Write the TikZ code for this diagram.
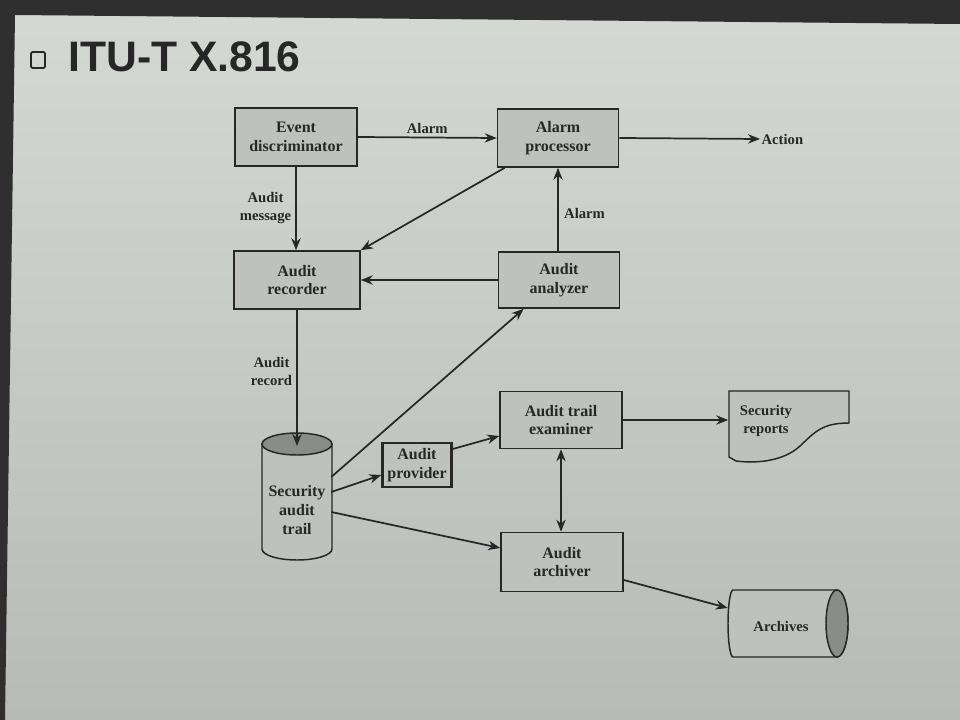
\documentclass[tikz,border=0pt]{standalone}
\usepackage{fontspec}
\setmainfont{Liberation Serif}
\setsansfont{Liberation Sans}
\usetikzlibrary{arrows.meta,calc}
\definecolor{bgtop}{HTML}{D5D9D3}
\definecolor{bgbot}{HTML}{B7BBB7}
\definecolor{frame}{HTML}{2E2F2E}
\definecolor{ink}{HTML}{262726}
\definecolor{boxfill}{HTML}{BEC1BC}
\definecolor{endfill}{HTML}{8A8C89}
\begin{document}
\begin{tikzpicture}[x=0.75pt,y=-0.75pt,
  box/.style={draw=ink, line width=1.2pt, fill=boxfill, text=ink, align=center,
    font=\fontsize{12}{14}\selectfont\bfseries, inner sep=0pt,
    minimum width=91.5pt, minimum height=43.5pt},
  lbl/.style={text=ink, align=center, font=\fontsize{11}{13.5}\selectfont\bfseries, inner sep=1pt},
  arr/.style={draw=ink, line width=1.3pt, -{Stealth[length=9pt,width=7pt]}},
  darr/.style={draw=ink, line width=1.3pt, {Stealth[length=9pt,width=7pt]}-{Stealth[length=9pt,width=7pt]}},
  ghost/.style={inner sep=0pt, draw=none}]
% background
\useasboundingbox (0,0) rectangle (960,720);
\shade[top color=bgtop, bottom color=bgbot] (0,0) rectangle (960,720);
\fill[frame] (0,0) -- (960,0) -- (960,24) -- (15,15) -- (5,720) -- (0,720) -- cycle;
% title
\node[draw=ink, line width=1.3pt, rounded corners=1pt, minimum width=10.5pt, minimum height=12pt, inner sep=0pt] (sq) at (38,60) {};
\node[anchor=base west, inner sep=0pt, text=ink, font=\fontsize{32}{36}\selectfont\sffamily\bfseries] (title) at (68,72) {ITU-T X.816};
% boxes
\node[box] (ed) at (296,137) {Event\\discriminator};
\node[box, minimum width=90.75pt] (ap) at (558,138) {Alarm\\processor};
\node[box, minimum width=94.5pt] (ar) at (297,280) {Audit\\recorder};
\node[box, minimum width=90.75pt, minimum height=42pt] (an) at (559,280) {Audit\\analyzer};
\node[box, minimum height=42.75pt] (ate) at (561,420) {Audit trail\\examiner};
\node[box, minimum height=44.25pt] (arch) at (562,562) {Audit\\archiver};
\node[box, line width=1.8pt, minimum width=51.75pt, minimum height=33pt] (prov) at (417,465) {Audit\\provider};
% security audit trail (vertical cylinder)
\node[ghost, minimum width=52.5pt, minimum height=95pt] (sat) at (297,497) {};
\filldraw[draw=ink, line width=1.1pt, fill=boxfill] (262,444) -- (262,549)
  arc[start angle=180, end angle=0, x radius=35, y radius=11] -- (332,444) -- cycle;
\filldraw[draw=ink, line width=1.1pt, fill=endfill] (297,444) ellipse[x radius=35, y radius=11];
\node[lbl, font=\fontsize{12}{14}\selectfont\bfseries] at (297,510) {Security\\audit\\trail};
% security reports (document)
\node[ghost, minimum width=90.75pt, minimum height=52pt] (srep) at (789,426) {};
\filldraw[draw=ink, line width=1.1pt, fill=boxfill] (729,391) -- (849,391) -- (849,423)
  .. controls (822,423) and (815,432) .. (800,446)
  .. controls (785,460) and (760,464) .. (736,461)
  -- (729,457) -- cycle;
\node[lbl, font=\fontsize{11}{14}\selectfont\bfseries] at (766,421) {Security\\reports};
% archives (horizontal cylinder)
\node[ghost, minimum width=90pt, minimum height=50pt] (arv) at (788,623.5) {};
\filldraw[draw=ink, line width=1.1pt, fill=boxfill] (733,590) -- (837,590)
  arc[start angle=-90, end angle=90, x radius=11, y radius=33.5] -- (733,657)
  arc[start angle=90, end angle=270, x radius=5, y radius=33.5] -- cycle;
\filldraw[draw=ink, line width=1.1pt, fill=endfill] (837,623.5) ellipse[x radius=11, y radius=33.5];
\node[lbl] at (781,626) {Archives};
% action
\node[lbl, anchor=west, font=\fontsize{11}{13}\selectfont\bfseries] (act) at (760,139) {Action};
% connectors
\draw[arr] (ed.east) -- (ap.west) node[lbl, midway, above=1pt] {Alarm};
\draw[arr] (ap.east) -- (act.west);
\draw[arr] (ed.south) -- (ed.south |- ar.north) node[lbl, pos=0.5, left=2pt] {Audit\\message};
\draw[arr] ($(ap.south west)+(8,0)$) -- ($(ar.north east)+(0,0)$);
\draw[arr] (an.west) -- (ar.east);
\draw[arr] (an.north -| ap.south) -- (ap.south) node[lbl, pos=0.45, right=3pt] {Alarm};
\draw[arr] (ar.south) -- (297,446) node[lbl, pos=0.45, left=2pt] {Audit\\record};
\draw[arr] ($(sat.east)+(-1,-20)$) -- ($(an.south west)+(26,0)$);
\draw[arr] ($(sat.east)+(-1,-5)$) -- ($(prov.west)+(0,10)$);
\draw[arr] ($(prov.east)+(0,-16)$) -- ($(ate.west)+(0,16)$);
\draw[arr] ($(sat.east)+(-1,15)$) -- ($(arch.west)+(0,-14)$);
\draw[darr] (ate.south) -- (ate.south |- arch.north);
\draw[arr] (ate.east) -- (ate.east -| srep.west);
\draw[arr] ($(arch.east)+(0,18)$) -- ($(arv.west)+(0,-15.5)$);
\end{tikzpicture}
\end{document}
